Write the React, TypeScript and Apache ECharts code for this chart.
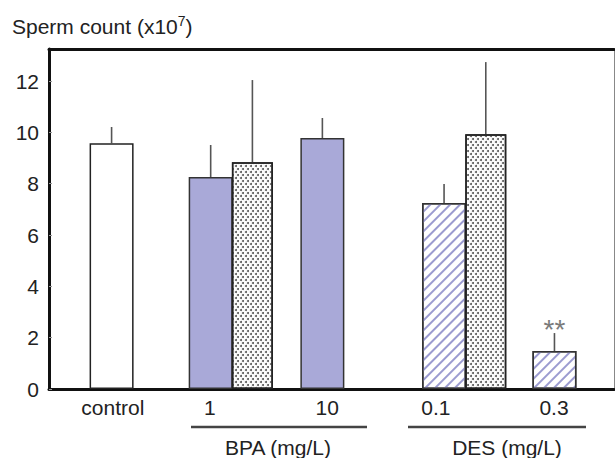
import React, { useEffect, useRef } from "react";
import * as echarts from "echarts";

// ---- data ----
const categories = ["control", "1", "10", "0.1", "0.3"];
const treatment = ["control", "BPA", "BPA", "DES", "DES"];
const mainValues = [9.58, 8.26, 9.78, 7.25, 1.48];
const mainErrors = [0.63, 1.25, 0.78, 0.74, 0.7];
const dottedValues: (number | null)[] = [null, 8.84, null, 9.93, null];
const dottedErrors: (number | null)[] = [null, 3.2, null, 2.81, null];
const significance = ["", "", "", "", "**"];
const yTicks = [0, 2, 4, 6, 8, 10, 12];
const groupLabels = ["BPA (mg/L)", "DES (mg/L)"];

// ---- layout (axis units on the x value axis) ----
const categorySlot = [1.44, 3.72, 6.29, 9.09, 11.63];
const labelSlot = [1.47, 3.7, 6.4, 8.9, 11.62];
const dottedOffset = 0.96;
const X_MAX = 13;
const Y_MAX = 13.25;

const FONT = "'Liberation Sans', Arial, Helvetica, sans-serif";
const FS = 21;
const BLUE = "#a9a9d8";
const HATCH = "#9b9bd0";

function mainStyle(t: string): any {
  if (t === "control") return { color: "#ffffff", borderColor: "#222", borderWidth: 1.5 };
  if (t === "BPA") return { color: BLUE, borderColor: "#333", borderWidth: 1.5 };
  return {
    color: "#ffffff",
    borderColor: "#333",
    borderWidth: 1.5,
    decal: {
      symbol: "rect",
      symbolSize: 1,
      color: HATCH,
      dashArrayX: [1, 0],
      dashArrayY: [2, 5],
      rotation: -Math.PI / 4,
    },
  };
}

const dottedStyle: any = {
  color: "#fcfcfc",
  borderColor: "#222",
  borderWidth: 1.5,
  decal: {
    symbol: "circle",
    symbolSize: 1,
    color: "#555",
    dashArrayX: [
      [1.5, 2.5],
      [0, 2, 1.5, 0.5],
    ],
    dashArrayY: [1.5, 0.5],
    rotation: 0,
  },
};

function nearestLabel(v: number): string {
  for (let i = 0; i < labelSlot.length; i++) {
    if (Math.abs(labelSlot[i] - v) < 0.02) return categories[i];
  }
  return "";
}

function errorRender(withMark: boolean) {
  return (params: any, api: any) => {
    const x = api.value(0);
    const v = api.value(1);
    const e = api.value(2);
    if (isNaN(v) || isNaN(e)) return null;
    const p0 = api.coord([x, v]);
    const p1 = api.coord([x, v + e]);
    const children: any[] = [
      {
        type: "line",
        shape: { x1: p0[0], y1: p0[1], x2: p1[0], y2: p1[1] },
        style: { stroke: "#555", lineWidth: 1.6 },
      },
    ];
    const mark = withMark ? significance[params.dataIndex] : "";
    if (mark) {
      children.push({
        type: "text",
        x: p1[0],
        y: p1[1] - 4,
        style: {
          text: mark,
          fill: "#7a7a7a",
          fontSize: 28,
          fontFamily: FONT,
          align: "center",
          verticalAlign: "middle",
        },
      });
    }
    return { type: "group", children };
  };
}

export default function App() {
  const ref = useRef<HTMLDivElement>(null);
  useEffect(() => {
    if (!ref.current) return;
    const chart = echarts.init(ref.current, null, { renderer: "svg" });
    const option: any = {
      animation: false,
      backgroundColor: "#ffffff",
      textStyle: { fontFamily: FONT },
      grid: { left: 49, right: 1, top: 49, bottom: 69, containLabel: false },
      xAxis: [
        {
          type: "value",
          min: 0,
          max: X_MAX,
          position: "bottom",
          axisLine: { show: true, onZero: false, lineStyle: { color: "#111", width: 3 } },
          axisTick: { show: false },
          splitLine: { show: false },
          axisLabel: {
            customValues: labelSlot,
            formatter: (v: number) => nearestLabel(v),
            fontSize: FS,
            color: "#222",
            fontFamily: FONT,
            margin: 8,
          },
        },
        {
          type: "value",
          min: 0,
          max: X_MAX,
          position: "top",
          axisLine: { show: true, onZero: false, lineStyle: { color: "#111", width: 3 } },
          axisTick: { show: false },
          axisLabel: { show: false },
          splitLine: { show: false },
        },
      ],
      yAxis: [
        {
          type: "value",
          min: 0,
          max: Y_MAX,
          interval: 2,
          position: "left",
          axisLine: { show: true, onZero: false, lineStyle: { color: "#111", width: 3 } },
          axisTick: {
            show: true,
            inside: true,
            length: 3,
            customValues: yTicks,
            lineStyle: { color: "#999", width: 1 },
          },
          splitLine: { show: false },
          axisLabel: {
            customValues: yTicks,
            fontSize: FS,
            color: "#222",
            fontFamily: FONT,
            margin: 10,
          },
        },
        {
          type: "value",
          min: 0,
          max: Y_MAX,
          position: "right",
          axisLine: { show: true, onZero: false, lineStyle: { color: "#888", width: 1 } },
          axisTick: { show: false },
          axisLabel: { show: false },
          splitLine: { show: false },
        },
      ],
      series: [
        {
          type: "bar",
          xAxisIndex: 0,
          yAxisIndex: 0,
          barWidth: 44,
          data: categories.map((c, i) => ({
            value: [categorySlot[i], mainValues[i]],
            itemStyle: mainStyle(treatment[i]),
          })),
          z: 2,
        },
        {
          type: "bar",
          xAxisIndex: 1,
          yAxisIndex: 0,
          barWidth: 41,
          data: categories
            .map((c, i) =>
              dottedValues[i] == null
                ? null
                : { value: [categorySlot[i] + dottedOffset, dottedValues[i]], itemStyle: dottedStyle }
            )
            .filter((d) => d != null),
          z: 2,
        },
        {
          type: "custom",
          xAxisIndex: 0,
          yAxisIndex: 0,
          renderItem: errorRender(true),
          data: categories.map((c, i) => [categorySlot[i], mainValues[i], mainErrors[i]]),
          z: 1,
        },
        {
          type: "custom",
          xAxisIndex: 0,
          yAxisIndex: 0,
          renderItem: errorRender(false),
          data: categories
            .map((c, i) =>
              dottedValues[i] == null
                ? null
                : [categorySlot[i] + dottedOffset, dottedValues[i] as number, dottedErrors[i] as number]
            )
            .filter((d) => d != null),
          z: 1,
        },
      ],
      graphic: [
        {
          type: "text",
          left: 12,
          top: 14,
          style: {
            text: "{a|Sperm count (x10}{s|7}{a|)}",
            rich: {
              a: { fontSize: FS, fontFamily: FONT, fill: "#222", lineHeight: 25 },
              s: { fontSize: 14, fontFamily: FONT, fill: "#222", lineHeight: 19, verticalAlign: "top" },
            },
          },
        },
        {
          type: "line",
          shape: { x1: 191, y1: 427, x2: 367, y2: 427 },
          style: { stroke: "#444", lineWidth: 2.5 },
        },
        {
          type: "line",
          shape: { x1: 408, y1: 427, x2: 586, y2: 427 },
          style: { stroke: "#444", lineWidth: 2.5 },
        },
        {
          type: "text",
          x: 278,
          y: 447,
          style: {
            text: groupLabels[0],
            fontSize: FS,
            fontFamily: FONT,
            fill: "#222",
            align: "center",
            verticalAlign: "middle",
          },
        },
        {
          type: "text",
          x: 507,
          y: 447,
          style: {
            text: groupLabels[1],
            fontSize: FS,
            fontFamily: FONT,
            fill: "#222",
            align: "center",
            verticalAlign: "middle",
          },
        },
      ],
    };
    chart.setOption(option);
    return () => chart.dispose();
  }, []);
  return (
    <div
      ref={ref}
      style={{ position: "fixed", left: 0, top: 0, width: 615, height: 458, background: "#fff" }}
    />
  );
}
